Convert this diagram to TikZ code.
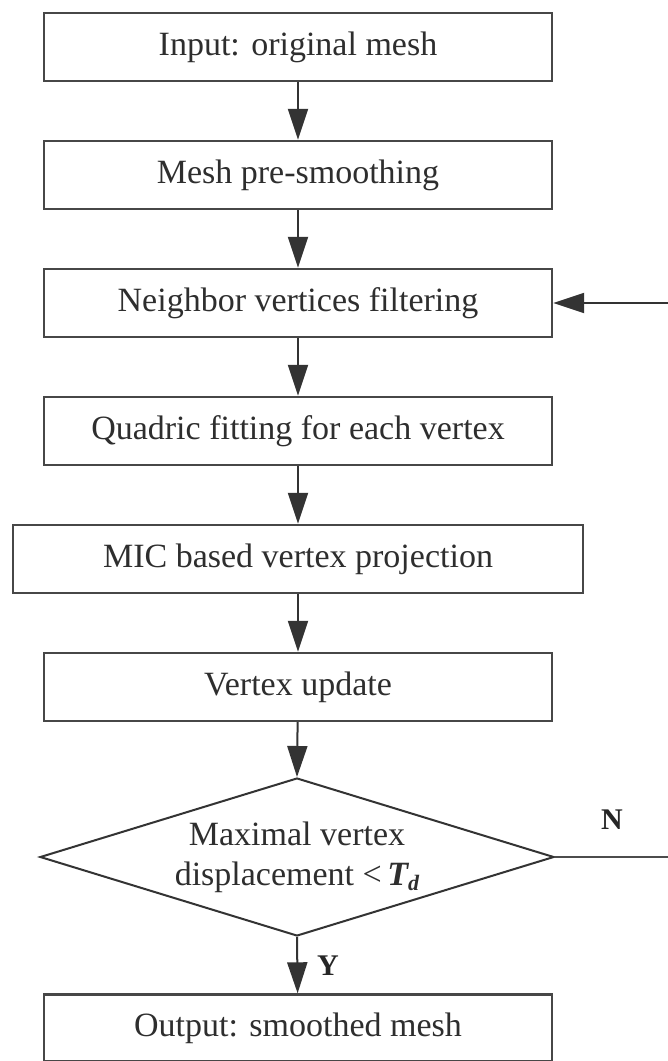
\documentclass[tikz,border=0pt]{standalone}
\usepackage{fontspec}
\setmainfont{Liberation Serif}
\usetikzlibrary{arrows.meta,shapes.geometric}
\begin{document}
\begin{tikzpicture}[x=1pt,y=-1pt,
  stepbox/.style={draw=black!72, line width=2.4pt, minimum width=508pt, minimum height=68pt,
    inner sep=0pt, font=\fontsize{34}{40}\selectfont, text=black!82},
  decision/.style={diamond, draw=black!80, line width=2pt, minimum width=514pt, minimum height=158pt,
    inner sep=0pt, shape aspect=3.25},
  dtext/.style={font=\fontsize{34}{40}\selectfont, text=black!82, align=center},
  flow/.style={draw=black!80, line width=2pt, -{Triangle[length=31pt,width=20pt]}},
  plain/.style={draw=black!70, line width=2pt},
  yn/.style={font=\fontsize{30}{34}\selectfont\bfseries, text=black!85}
]
\useasboundingbox (0,0) rectangle (668,1061);
\fill[white] (0,0) rectangle (668,1061);

\node[stepbox] (b1) at (298,47) {Input: original mesh};
\node[stepbox] (b2) at (298,175) {Mesh pre-smoothing};
\node[stepbox] (b3) at (298,303) {Neighbor vertices filtering};
\node[stepbox] (b4) at (298,431) {Quadric fitting for each vertex};
\node[stepbox, minimum width=570pt] (b5) at (298,559) {MIC based vertex projection};
\node[stepbox] (b6) at (298,687) {Vertex update};
\node[decision] (dec) at (297,857) {};
\node[dtext] (dectext) at (297,857) {Maximal vertex\\displacement <\,{\bfseries\itshape T}\raisebox{-0.35ex}{\fontsize{22}{22}\selectfont\bfseries\itshape d}};
\node[stepbox, minimum height=67pt] (b7) at (298,1028) {Output: smoothed mesh};

\coordinate (fbR) at (668,857);
\coordinate (fbT) at (668,303);

\draw[flow] (b1) -- (b2);
\draw[flow] (b2) -- (b3);
\draw[flow] (b3) -- (b4);
\draw[flow] (b4) -- (b5);
\draw[flow] (b5) -- (b6);
\draw[flow] (b6) -- (dec.north);
\draw[flow] (dec.south) -- (b7);
\draw[plain] (dec.east) -- (fbR);
\draw[flow] (fbT) -- (b3.east);

\node[yn] (ylab) at (328,966) {Y};
\node[yn] (nlab) at (612,820) {N};
\end{tikzpicture}
\end{document}
